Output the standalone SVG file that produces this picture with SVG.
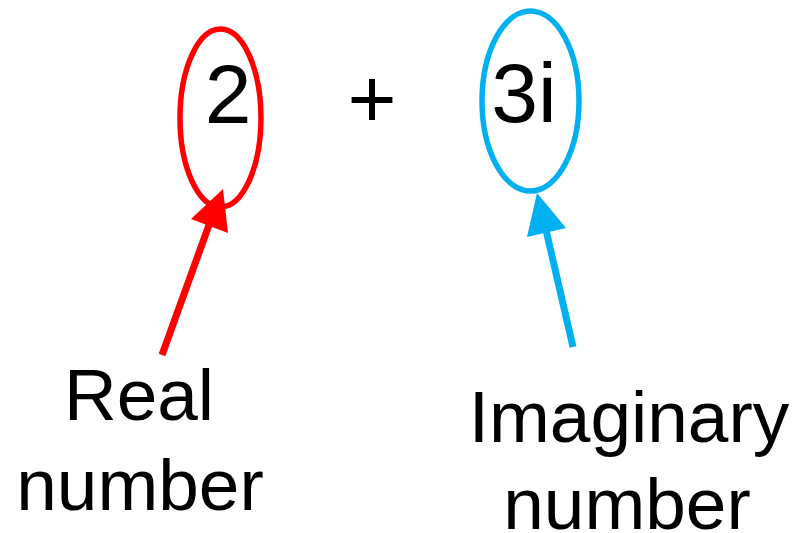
<svg xmlns="http://www.w3.org/2000/svg" width="794" height="533" viewBox="0 0 794 533">
<style>
.txt{font-family:"Liberation Sans",Arial,sans-serif;fill:#000;text-anchor:middle}
.big{font-size:84px}
.lbl{font-size:73px}
.red{stroke:#FF0000;fill:none;stroke-width:5.5}
.blue{stroke:#00B0F0;fill:none;stroke-width:5.5}
.redl{stroke:#FF0000;stroke-width:7}
.bluel{stroke:#00B0F0;stroke-width:7}
.redh{fill:#FF0000}
.blueh{fill:#00B0F0}
</style>
<rect width="794" height="533" fill="#fff"/>
<g id="real-part">
<ellipse class="red" cx="220.5" cy="118" rx="40.5" ry="89"/>
<text class="txt big" x="228" y="123">2</text>
</g>
<g id="plus">
<text class="txt big" x="372" y="127">+</text>
</g>
<g id="imag-part">
<ellipse class="blue" cx="530.5" cy="101" rx="48.5" ry="90"/>
<text class="txt big" x="524" y="122">3i</text>
</g>
<g id="real-label">
<text class="txt lbl" x="139" y="420">Real</text>
<text class="txt lbl" x="140" y="510">number</text>
</g>
<g id="imag-label">
<text class="txt lbl" x="629" y="442">Imaginary</text>
<text class="txt lbl" x="627" y="529">number</text>
</g>
<g id="connectors">
<line class="redl" x1="162" y1="355" x2="209" y2="225"/>
<polygon class="redh" points="223,189 191,219 228,233"/>
<line class="bluel" x1="573" y1="347" x2="546" y2="230"/>
<polygon class="blueh" points="537,193 527,237 566,228"/>
</g>
</svg>
